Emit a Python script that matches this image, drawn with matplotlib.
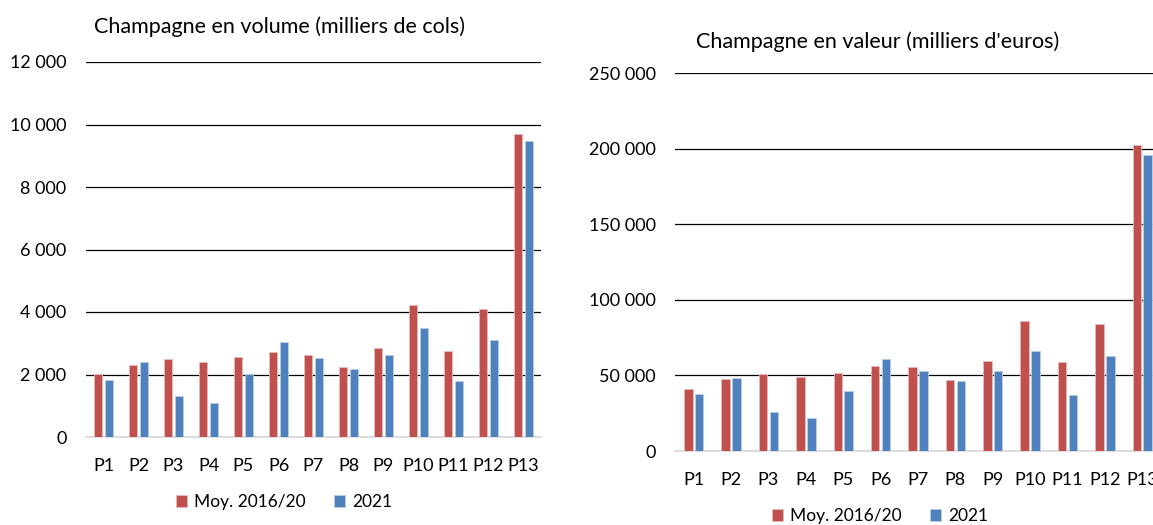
import matplotlib
matplotlib.use("Agg")
import matplotlib.pyplot as plt
from matplotlib.ticker import FuncFormatter, MultipleLocator
import numpy as np

plt.rcParams['font.family'] = ['Lato', 'DejaVu Sans']

categories = ["P1", "P2", "P3", "P4", "P5", "P6", "P7", "P8", "P9", "P10", "P11", "P12", "P13"]
series_names = ["Moy. 2016/20", "2021"]

vol_moy = [2010, 2310, 2500, 2415, 2545, 2715, 2640, 2225, 2850, 4225, 2765, 4095, 9700]
vol_2021 = [1840, 2415, 1300, 1075, 2010, 3055, 2530, 2180, 2615, 3500, 1800, 3120, 9480]

val_moy = [40700, 47800, 50900, 48900, 51500, 56200, 55300, 47100, 59700, 86000, 58800, 84300, 202400]
val_2021 = [37800, 48200, 25700, 21700, 39400, 60600, 53100, 46000, 52600, 66400, 36900, 62800, 196000]

RED = "#C0504D"
BLUE = "#4F81BD"
W, H = 1153, 525

fig = plt.figure(figsize=(W / 100, H / 100), dpi=100)

def fmt(v, pos):
    return f"{int(round(v)):,}".replace(",", " ")

def make_panel(rect, moy, y21, ymax, step, title, title_xy, legend_xy):
    ax = fig.add_axes(rect)
    x = np.arange(len(categories))
    bw = 0.23
    off = 0.145
    ax.bar(x - off, moy, bw, color=RED, edgecolor="#E6B9B8", linewidth=0.6, zorder=3, label=series_names[0])
    ax.bar(x + off, y21, bw, color=BLUE, edgecolor="#B9CDE5", linewidth=0.6, zorder=3, label=series_names[1])
    ax.set_xlim(-0.5, len(categories) - 0.5)
    ax.set_ylim(0, ymax)
    ax.yaxis.set_major_locator(MultipleLocator(step))
    ax.yaxis.set_major_formatter(FuncFormatter(fmt))
    ax.set_xticks(x)
    ax.set_xticklabels(categories)
    for s in ["top", "right", "left"]:
        ax.spines[s].set_visible(False)
    ax.spines["bottom"].set_color("#D9D9D9")
    ax.spines["bottom"].set_linewidth(1.2)
    ax.grid(axis="y", color="black", linewidth=0.9, zorder=0)
    ax.set_axisbelow(True)
    ax.tick_params(axis="both", length=0, labelsize=13, colors="black")
    ax.tick_params(axis="y", pad=14)
    ax.tick_params(axis="x", pad=15)
    gl = ax.get_ygridlines()
    if len(gl):
        gl[0].set_visible(False)
    fig.text(title_xy[0] / W, 1 - title_xy[1] / H, title, ha="center", va="center", fontsize=15.5)
    fig.legend(handles=ax.get_legend_handles_labels()[0], labels=series_names,
               loc="center", bbox_to_anchor=(legend_xy[0] / W, 1 - legend_xy[1] / H),
               ncol=2, frameon=False, fontsize=12.5, handlelength=0.65, handleheight=0.65,
               handletextpad=0.4, columnspacing=1.6)
    return ax

make_panel([86 / W, 1 - 437 / H, 455 / W, 375 / H], vol_moy, vol_2021, 12000, 2000,
           "Champagne en volume (milliers de cols)", (280, 27), (284, 502))
make_panel([675 / W, 1 - 451 / H, 486 / W, 378 / H], val_moy, val_2021, 250000, 50000,
           "Champagne en valeur (milliers d'euros)", (878, 42), (880, 516))

fig.savefig("out.png", dpi=100)
